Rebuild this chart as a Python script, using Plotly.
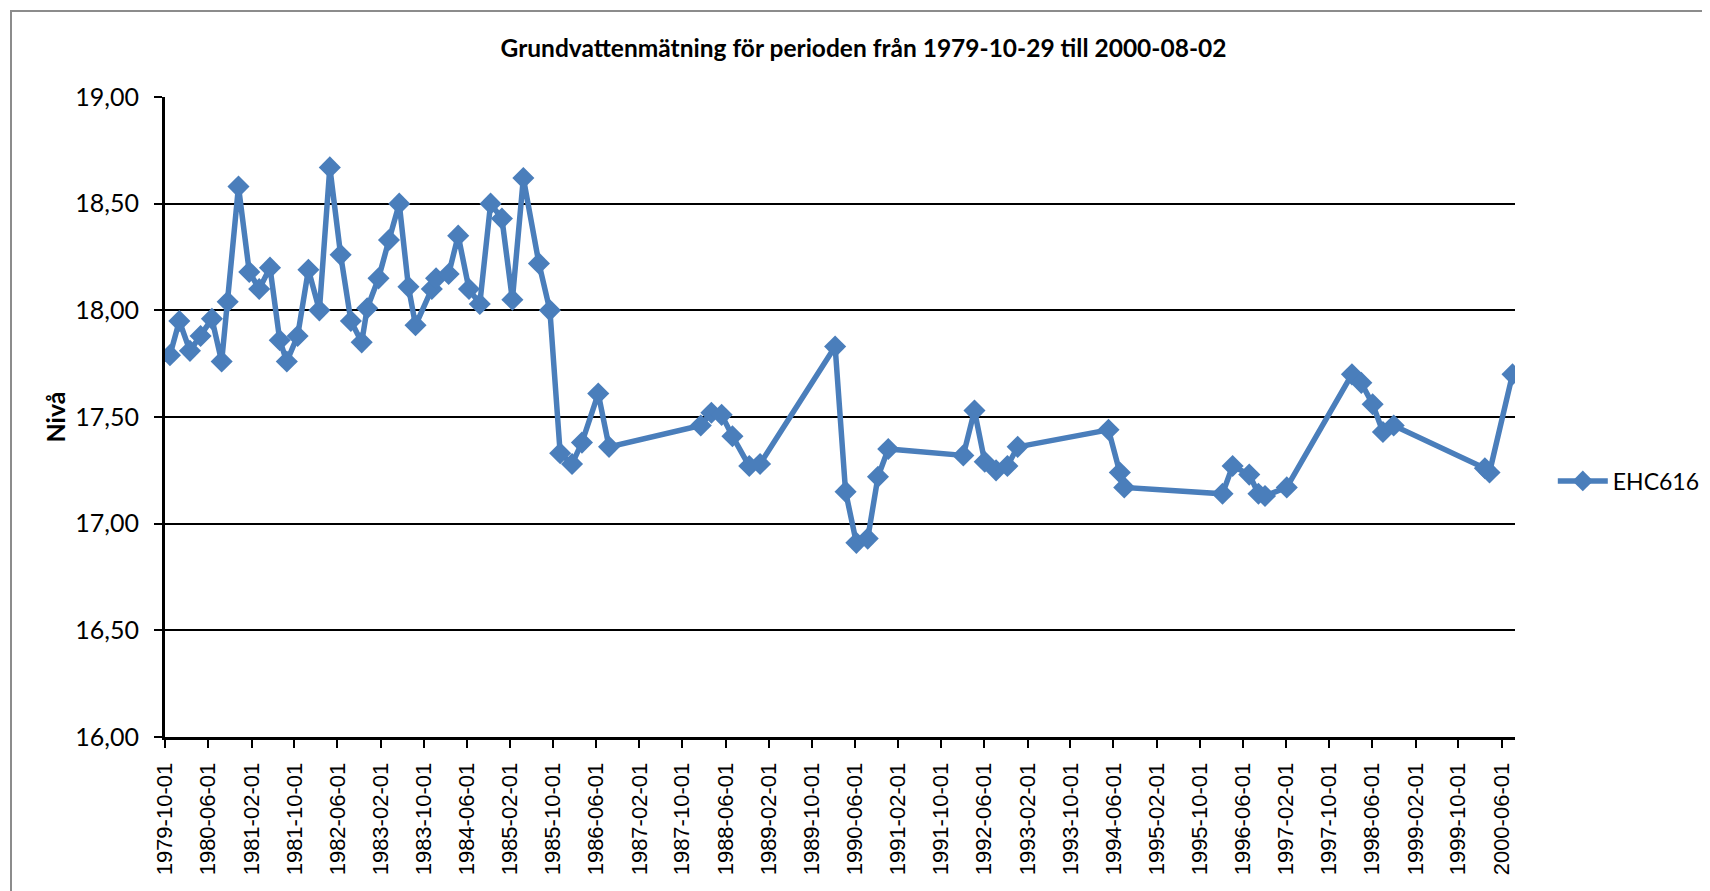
import plotly.graph_objects as go

title_text = "Grundvattenmätning för perioden från 1979-10-29 till 2000-08-02"
series_name = "EHC616"
y_title = "Nivå"

dates = [
    "1979-10-29", "1979-12-21", "1980-02-19", "1980-04-19", "1980-06-22", "1980-08-16",
    "1980-09-19", "1980-11-19", "1981-01-19", "1981-03-16", "1981-05-16", "1981-07-10",
    "1981-08-19", "1981-10-19", "1981-12-19", "1982-02-19", "1982-04-19", "1982-06-19",
    "1982-08-16", "1982-10-16", "1982-11-16", "1983-01-19", "1983-03-19", "1983-05-16",
    "1983-07-07", "1983-08-16", "1983-11-16", "1983-12-10", "1984-02-19", "1984-04-13",
    "1984-06-13", "1984-08-13", "1984-10-13", "1984-12-16", "1985-02-13", "1985-04-16",
    "1985-07-13", "1985-09-13", "1985-11-10", "1986-01-16", "1986-03-13", "1986-06-13",
    "1986-08-13", "1988-01-13", "1988-03-13", "1988-05-10", "1988-07-10", "1988-10-13",
    "1988-12-13", "1990-02-10", "1990-04-10", "1990-06-10", "1990-08-13", "1990-10-10",
    "1990-12-07", "1992-02-04", "1992-04-07", "1992-06-04", "1992-08-07", "1992-10-10",
    "1992-12-07", "1994-05-04", "1994-07-07", "1994-08-01", "1996-02-07", "1996-04-04",
    "1996-07-07", "1996-08-28", "1996-10-04", "1997-02-04", "1998-02-07", "1998-04-01",
    "1998-06-04", "1998-08-01", "1998-10-01", "2000-02-28", "2000-03-25", "2000-08-02",
]

levels = [
    17.79, 17.95, 17.81, 17.88, 17.96, 17.76,
    18.04, 18.58, 18.18, 18.10, 18.20, 17.86,
    17.76, 17.88, 18.19, 18.00, 18.67, 18.26,
    17.95, 17.85, 18.01, 18.15, 18.33, 18.50,
    18.11, 17.93, 18.10, 18.15, 18.17, 18.35,
    18.10, 18.03, 18.50, 18.43, 18.05, 18.62,
    18.22, 18.00, 17.33, 17.28, 17.38, 17.61,
    17.36, 17.46, 17.52, 17.51, 17.41, 17.27,
    17.28, 17.83, 17.15, 16.91, 16.93, 17.22,
    17.35, 17.32, 17.53, 17.29, 17.25, 17.27,
    17.36, 17.44, 17.24, 17.17, 17.14, 17.27,
    17.23, 17.14, 17.13, 17.17, 17.70, 17.66,
    17.56, 17.43, 17.46, 17.26, 17.24, 17.70,
]

y_ticks = [16.0, 16.5, 17.0, 17.5, 18.0, 18.5, 19.0]
y_tick_labels = ["16,00", "16,50", "17,00", "17,50", "18,00", "18,50", "19,00"]

blue = "#4A7EBB"

fig = go.Figure()
fig.add_trace(go.Scatter(
    x=dates, y=levels, name=series_name, mode="lines+markers",
    line=dict(color=blue, width=5.5),
    marker=dict(symbol="diamond", size=17, color=blue),
))

L, R, T, B = 157, 203, 89, 162
PW, PH = 1710 - L - R, 891 - T - B

fig.update_layout(
    width=1710, height=891,
    margin=dict(l=L, r=R, t=T, b=B),
    paper_bgcolor="white", plot_bgcolor="white",
    title=dict(text=title_text, x=0.5003, xanchor="center", y=1 - 40 / 891, yanchor="middle",
               font=dict(family="Lato", size=24.5, color="black", weight="bold")),
    showlegend=True,
    legend=dict(x=1.028, xanchor="left", y=0.40, yanchor="middle",
                font=dict(family="Lato", size=23, color="black"),
                itemwidth=50, bgcolor="rgba(0,0,0,0)"),
    font=dict(family="Lato", color="black"),
)

fig.update_xaxes(
    type="date", range=["1979-10-01", "2000-08-16"], automargin=False,
    tickmode="linear", tick0="1979-10-01", dtick="M8", tickformat="%Y-%m-%d",
    tickangle=-90, ticks="outside", ticklen=8, tickwidth=2, tickcolor="black",
    ticklabelstandoff=6,
    tickfont=dict(family="Liberation Sans", size=22, color="black"),
    showline=True, linecolor="black", linewidth=3, showgrid=False, zeroline=False,
)

fig.update_yaxes(
    range=[16.0, 19.0], tickmode="array", tickvals=y_ticks, ticktext=y_tick_labels,
    automargin=False,
    ticks="outside", ticklen=8, tickwidth=2, tickcolor="black",
    ticklabelstandoff=10,
    tickfont=dict(family="Lato", size=25, color="black"),
    showline=True, linecolor="black", linewidth=3,
    showgrid=True, gridcolor="black", gridwidth=2, zeroline=False,
    title=dict(text="<b>" + y_title + "</b>", font=dict(family="Lato", size=25, color="black"), standoff=3),
)

# outer chart border (top-left corner at ~3 px figure coordinates)
fig.add_shape(type="rect", xref="paper", yref="paper",
              x0=(3 - L) / PW, x1=1.2, y0=-0.4, y1=(T + PH - 3) / PH,
              line=dict(color="#8c8c8c", width=2), fillcolor="rgba(0,0,0,0)", layer="below")

fig.write_html("out.html")
